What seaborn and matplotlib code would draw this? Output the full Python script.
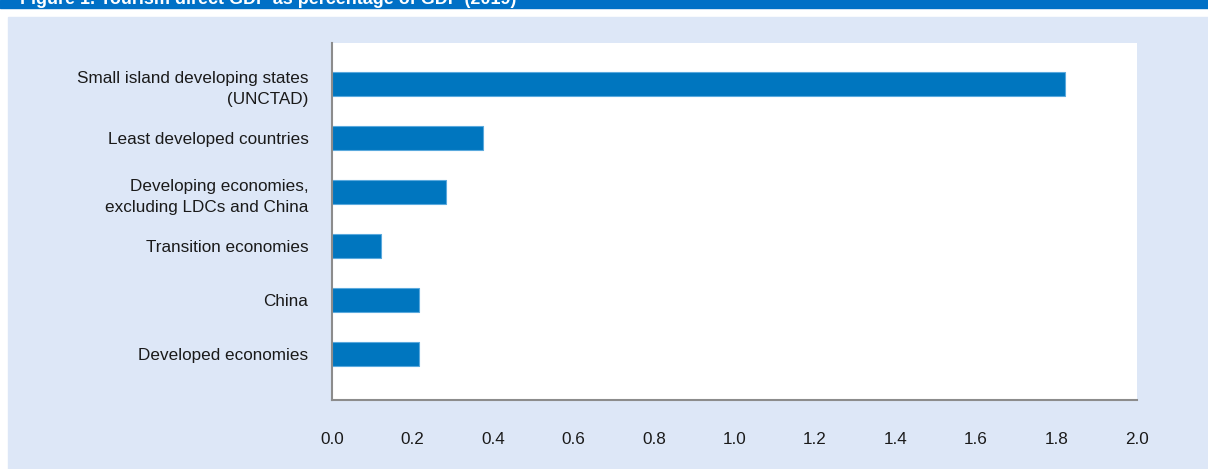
"""Horizontal bar chart: tourism share by country group."""

import matplotlib.pyplot as plt
from matplotlib.patches import Rectangle
import seaborn as sns

GROUPS = [
    "Small island developing states\n(UNCTAD)",
    "Least developed countries",
    "Developing economies,\nexcluding LDCs and China",
    "Transition economies",
    "China",
    "Developed economies",
]
VALUES = [1.82, 0.375, 0.283, 0.122, 0.216, 0.216]
X_TICKS = [0.0, 0.2, 0.4, 0.6, 0.8, 1.0, 1.2, 1.4, 1.6, 1.8, 2.0]
TITLE = "Figure 1. Tourism direct GDP as percentage of GDP (2019)"

COLORS = {
    "bar": "#0076BF",
    "bar_edge": "#5AA9DD",
    "panel": "#DDE7F7",
    "band": "#0070C6",
    "spine": "#8C8C8C",
    "text": "#1A1A1A",
}

sns.set_theme(style="white")
plt.rcParams["font.family"] = ["Liberation Sans", "DejaVu Sans"]

fig = plt.figure(figsize=(12.08, 4.69), dpi=100, facecolor="white")
# light blue panel and the header band (title is cropped in the source image)
fig.patches.append(Rectangle((8 / 1208, 0), 1, (469 - 17) / 469,
                             transform=fig.transFigure, color=COLORS["panel"], zorder=-2))
fig.patches.append(Rectangle((0, 1 - 8 / 469), 1, 8 / 469,
                             transform=fig.transFigure, color=COLORS["band"], zorder=-1))
fig.text(20 / 1208, 1 - 4 / 469, TITLE, color="white", fontsize=13,
         fontweight="bold", va="baseline")

ax = fig.add_axes([332 / 1208, 1 - 400 / 469, 805 / 1208, 357 / 469])
ax.set_facecolor("white")
sns.barplot(x=VALUES, y=GROUPS, orient="h", color=COLORS["bar"], width=0.44,
            edgecolor=COLORS["bar_edge"], linewidth=0.8, saturation=1, ax=ax)

ax.set_xlim(0, 2.0)
ax.set_ylim(5.85, -0.76)
ax.set_xticks(X_TICKS, labels=[f"{t:.1f}" for t in X_TICKS])
ax.tick_params(axis="x", length=0, pad=23, labelsize=12.3, colors=COLORS["text"])
ax.tick_params(axis="y", length=0, pad=17, labelsize=12.3, colors=COLORS["text"])
for label in ax.get_yticklabels():
    label.set_linespacing(1.55)
ax.set(xlabel="", ylabel="")
for side in ["top", "right"]:
    ax.spines[side].set_visible(False)
for side in ["left", "bottom"]:
    ax.spines[side].set_color(COLORS["spine"])
    ax.spines[side].set_linewidth(1.5)

fig.savefig("out.png", dpi=100, facecolor="white")
